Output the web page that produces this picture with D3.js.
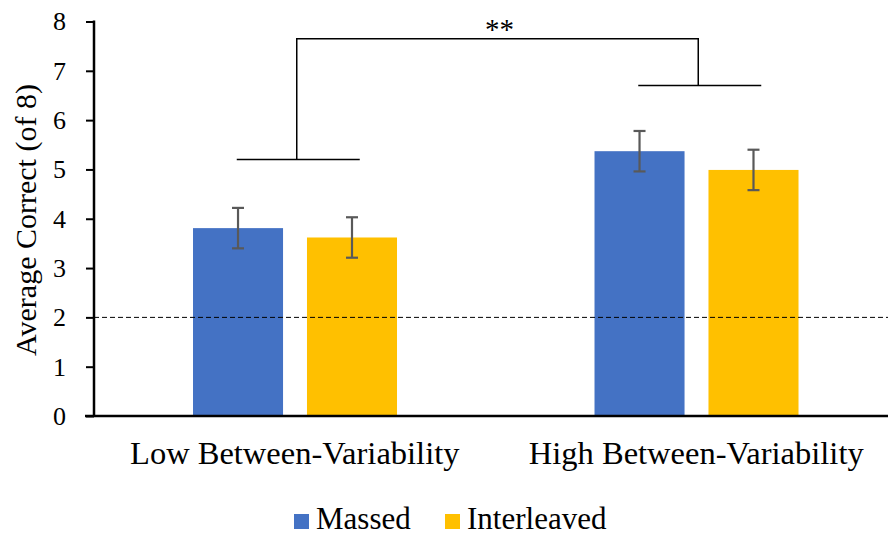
<!DOCTYPE html>
<meta charset="utf-8">
<style>
body { margin: 0; background: #fff; }
text { font-family: "Liberation Serif", "Times New Roman", serif; fill: #000; }
</style>
<body>
<div id="chart"></div>
<script src="https://cdn.jsdelivr.net/npm/d3@7"></script>
<script>

var categories = ["Low Between-Variability", "High Between-Variability"];
var series = ["Massed", "Interleaved"];
var massed = [3.81, 5.37];
var interleaved = [3.62, 4.99];
var massedErr = [0.41, 0.41];
var interleavedErr = [0.41, 0.41];
var yTicks = [0, 1, 2, 3, 4, 5, 6, 7, 8];
var chanceLevel = 2;
// bracket heights: per-group bar and the top connecting line
var groupBracket = [5.2, 6.7];
var topBracket = 7.65;
var sigLabel = "**";

var WIDTH = 888;
var HEIGHT = 536;
var COLORS = {"Massed": "#4472C4", "Interleaved": "#FFC000"};

var svg = d3.select('#chart').append('svg')
    .attr('width', WIDTH)
    .attr('height', HEIGHT);

var x0 = d3.scaleBand()
    .domain(categories)
    .range([94, 897]);

var x1 = d3.scaleBand()
    .domain(series)
    .range([x0.bandwidth() * 0.2466, x0.bandwidth() * 0.7547])
    .paddingInner(0.21);

var y = d3.scaleLinear()
    .domain([0, 8])
    .range([416, 21.5]);

var rows = categories.map(function(c, i) {
  return [
    {cat: c, s: "Massed", v: massed[i], e: massedErr[i]},
    {cat: c, s: "Interleaved", v: interleaved[i], e: interleavedErr[i]}
  ];
});

// bars
var groups = svg.selectAll('g.group')
    .data(rows)
  .enter().append('g')
    .attr('class', 'group')
    .attr('transform', function(d, i) { return 'translate(' + x0(categories[i]) + ',0)'; });

groups.selectAll('rect')
    .data(function(d) { return d; })
  .enter().append('rect')
    .attr('x', function(d) { return x1(d.s); })
    .attr('y', function(d) { return y(d.v); })
    .attr('width', x1.bandwidth())
    .attr('height', function(d) { return y(0) - y(d.v); })
    .attr('fill', function(d) { return COLORS[d.s]; });

// chance line
svg.append('line')
    .attr('x1', 94).attr('x2', WIDTH)
    .attr('y1', y(chanceLevel)).attr('y2', y(chanceLevel))
    .attr('stroke', '#000')
    .attr('stroke-width', 1)
    .attr('stroke-dasharray', '5,3');

// error bars
var errs = groups.selectAll('g.err')
    .data(function(d) { return d; })
  .enter().append('g')
    .attr('class', 'err')
    .attr('stroke', '#595959')
    .attr('stroke-width', 2.2);

errs.append('line')
    .attr('x1', function(d) { return x1(d.s) + x1.bandwidth() / 2; })
    .attr('x2', function(d) { return x1(d.s) + x1.bandwidth() / 2; })
    .attr('y1', function(d) { return y(d.v + d.e); })
    .attr('y2', function(d) { return y(d.v - d.e); });
[-1, 1].forEach(function(sgn) {
  errs.append('line')
      .attr('x1', function(d) { return x1(d.s) + x1.bandwidth() / 2 - 6; })
      .attr('x2', function(d) { return x1(d.s) + x1.bandwidth() / 2 + 6; })
      .attr('y1', function(d) { return y(d.v + sgn * d.e); })
      .attr('y2', function(d) { return y(d.v + sgn * d.e); });
});

// axes
var yAxis = svg.append('g')
    .attr('transform', 'translate(94,0)')
    .call(d3.axisLeft(y).tickValues(yTicks).tickSize(8).tickPadding(20));
yAxis.select('.domain').remove();
yAxis.selectAll('.tick line').attr('stroke', '#000').attr('stroke-width', 2);
yAxis.selectAll('.tick text')
    .style('font-family', '"Liberation Serif", serif')
    .style('font-size', '26px')
    .attr('fill', '#000');

svg.append('line')
    .attr('x1', 94).attr('x2', 94)
    .attr('y1', y(8) - 1).attr('y2', y(0))
    .attr('stroke', '#000').attr('stroke-width', 2.5);
svg.append('line')
    .attr('x1', 85).attr('x2', WIDTH)
    .attr('y1', y(0)).attr('y2', y(0))
    .attr('stroke', '#000').attr('stroke-width', 2.5);

svg.append('text')
    .attr('transform', 'translate(36,' + 220 + ') rotate(-90)')
    .attr('text-anchor', 'middle')
    .style('font-size', '30px')
    .text('Average Correct (of 8)');

svg.selectAll('text.cat')
    .data(categories)
  .enter().append('text')
    .attr('class', 'cat')
    .attr('x', function(d) { return x0(d) + x0.bandwidth() / 2; })
    .attr('y', 464)
    .attr('text-anchor', 'middle')
    .style('font-size', '32.5px')
    .text(function(d) { return d; });

// significance brackets
var bracket = svg.append('g')
    .attr('stroke', '#000')
    .attr('stroke-width', 1.5)
    .attr('fill', 'none');
var mids = categories.map(function(c) { return x0(c) + x0.bandwidth() / 2 + 2; });
mids.forEach(function(m, i) {
  bracket.append('line')
      .attr('x1', m - 60).attr('x2', m + 63)
      .attr('y1', y(groupBracket[i])).attr('y2', y(groupBracket[i]));
});
bracket.append('path')
    .attr('d', 'M' + mids[0] + ',' + y(groupBracket[0]) +
               'V' + y(topBracket) +
               'H' + mids[1] +
               'V' + y(groupBracket[1]));

svg.append('text')
    .attr('x', (mids[0] + mids[1]) / 2 + 2)
    .attr('y', 39)
    .attr('text-anchor', 'middle')
    .style('font-size', '29px')
    .text(sigLabel);

// legend
var legend = svg.selectAll('g.legend')
    .data(series)
  .enter().append('g')
    .attr('class', 'legend')
    .attr('transform', function(d, i) { return 'translate(' + [294, 445][i] + ',0)'; });
legend.append('rect')
    .attr('x', 0).attr('y', 514)
    .attr('width', 15).attr('height', 15)
    .attr('fill', function(d) { return COLORS[d]; });
legend.append('text')
    .attr('x', 22).attr('y', 529)
    .style('font-size', '31px')
    .text(function(d) { return d; });

</script>
</body>
